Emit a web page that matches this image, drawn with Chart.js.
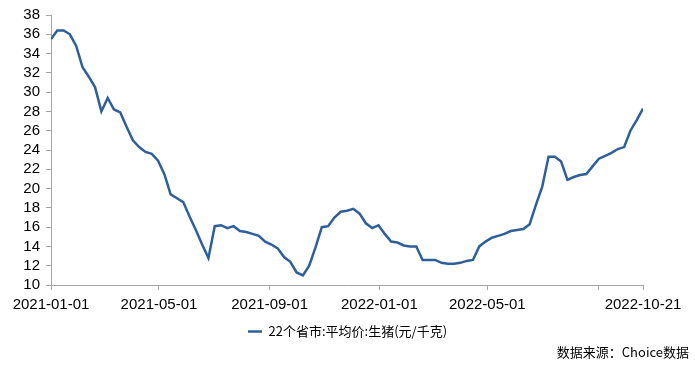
<!DOCTYPE html>
<html>
<head>
<meta charset="utf-8">
<script src="https://cdn.jsdelivr.net/npm/chart.js@4"></script>
<style>
  html, body { margin: 0; padding: 0; background: #fff; }
  #wrap { position: relative; width: 695px; height: 370px; }
  #source {
    position: absolute; right: 6px; top: 342px;
    font: 13px "Noto Sans CJK SC", sans-serif; color: #000;
  }
</style>
</head>
<body>
<div id="wrap">
  <canvas id="priceChart" width="695" height="370"></canvas>
  <div id="source">数据来源：Choice数据</div>
</div>
<script>
// weekly series starting 2021-01-01 (Fridays), last point 2022-10-21
const startDate = "2021-01-01";
const seriesName = "22个省市:平均价:生猪(元/千克)";
const price = [
  35.5, 36.4, 36.4, 36.0, 34.8, 32.6, 31.6, 30.5, 28.0, 29.4,
  28.2, 27.9, 26.4, 25.0, 24.3, 23.8, 23.6, 22.9, 21.5, 19.4,
  19.0, 18.6, 17.1, 15.7, 14.2, 12.8, 16.1, 16.2, 15.9, 16.1,
  15.6, 15.5, 15.3, 15.1, 14.5, 14.2, 13.8, 12.9, 12.4, 11.3,
  11.0, 12.0, 13.9, 16.0, 16.1, 17.0, 17.6, 17.7, 17.9, 17.4,
  16.4, 15.9, 16.2, 15.3, 14.5, 14.4, 14.1, 14.0, 14.0, 12.6,
  12.6, 12.6, 12.3, 12.2, 12.2, 12.3, 12.5, 12.6, 14.0, 14.5,
  14.9, 15.1, 15.3, 15.6, 15.7, 15.8, 16.3, 18.3, 20.2, 23.3,
  23.3, 22.8, 20.9, 21.2, 21.4, 21.5, 22.3, 23.1, 23.4, 23.7,
  24.1, 24.3, 26.0, 27.1, 28.3
];
const tickDates = ["2021-01-01", "2021-05-01", "2021-09-01", "2022-01-01", "2022-05-01", "2022-09-01", "2022-10-21"];
const tickLabels = ["2021-01-01", "2021-05-01", "2021-09-01", "2022-01-01", "2022-05-01", "", "2022-10-21"];
const yTicks = [10, 12, 14, 16, 18, 20, 22, 24, 26, 28, 30, 32, 34, 36, 38];

const DAY = 86400000;
const dayOf = d => (Date.parse(d) - Date.parse(startDate)) / DAY;
const points = price.map((v, i) => ({ x: i * 7, y: v }));
const tickDays = tickDates.map(dayOf);

const axisColor = "#a6a6a6";
const tickFont = { family: "'Liberation Sans', 'Noto Sans CJK SC', sans-serif", size: 15 };

new Chart(document.getElementById("priceChart"), {
  type: "line",
  data: {
    datasets: [{
      label: seriesName,
      data: points,
      borderColor: "#2f5f98",
      backgroundColor: "#2f5f98",
      borderWidth: 2.5,
      pointRadius: 0,
      tension: 0
    }]
  },
  options: {
    responsive: false,
    animation: false,
    layout: { padding: { left: 0, right: 0, top: 6, bottom: 22 } },
    plugins: {
      tooltip: { enabled: false },
      legend: {
        position: "bottom",
        labels: {
          usePointStyle: true,
          pointStyle: "line",
          pointStyleWidth: 14,
          color: "#000",
          padding: 8,
          font: { family: "'Noto Sans CJK SC', sans-serif", size: 13 }
        }
      }
    },
    scales: {
      x: {
        type: "linear",
        min: 0,
        max: tickDays[tickDays.length - 1],
        afterBuildTicks: s => { s.ticks = tickDays.map(v => ({ value: v })); },
        afterFit: s => { s.height = 32; },
        grid: { drawOnChartArea: false, drawTicks: true, tickLength: 5, color: axisColor },
        border: { color: axisColor, width: 1 },
        ticks: {
          autoSkip: false, maxRotation: 0, padding: 6, color: "#000", font: tickFont,
          callback: v => tickLabels[tickDays.indexOf(v)] ?? ""
        }
      },
      y: {
        min: 10,
        max: 38,
        afterBuildTicks: s => { s.ticks = yTicks.map(v => ({ value: v })); },
        afterFit: s => { s.width = 51; },
        grid: { drawOnChartArea: false, drawTicks: true, tickLength: 5, color: axisColor },
        border: { color: axisColor, width: 1 },
        ticks: { autoSkip: false, padding: 6, color: "#000", font: tickFont }
      },
      yRight: {
        position: "right",
        display: true,
        afterFit: s => { s.width = 52; },
        grid: { display: false },
        border: { display: false },
        ticks: { display: false }
      }
    }
  }
});
</script>
</body>
</html>
